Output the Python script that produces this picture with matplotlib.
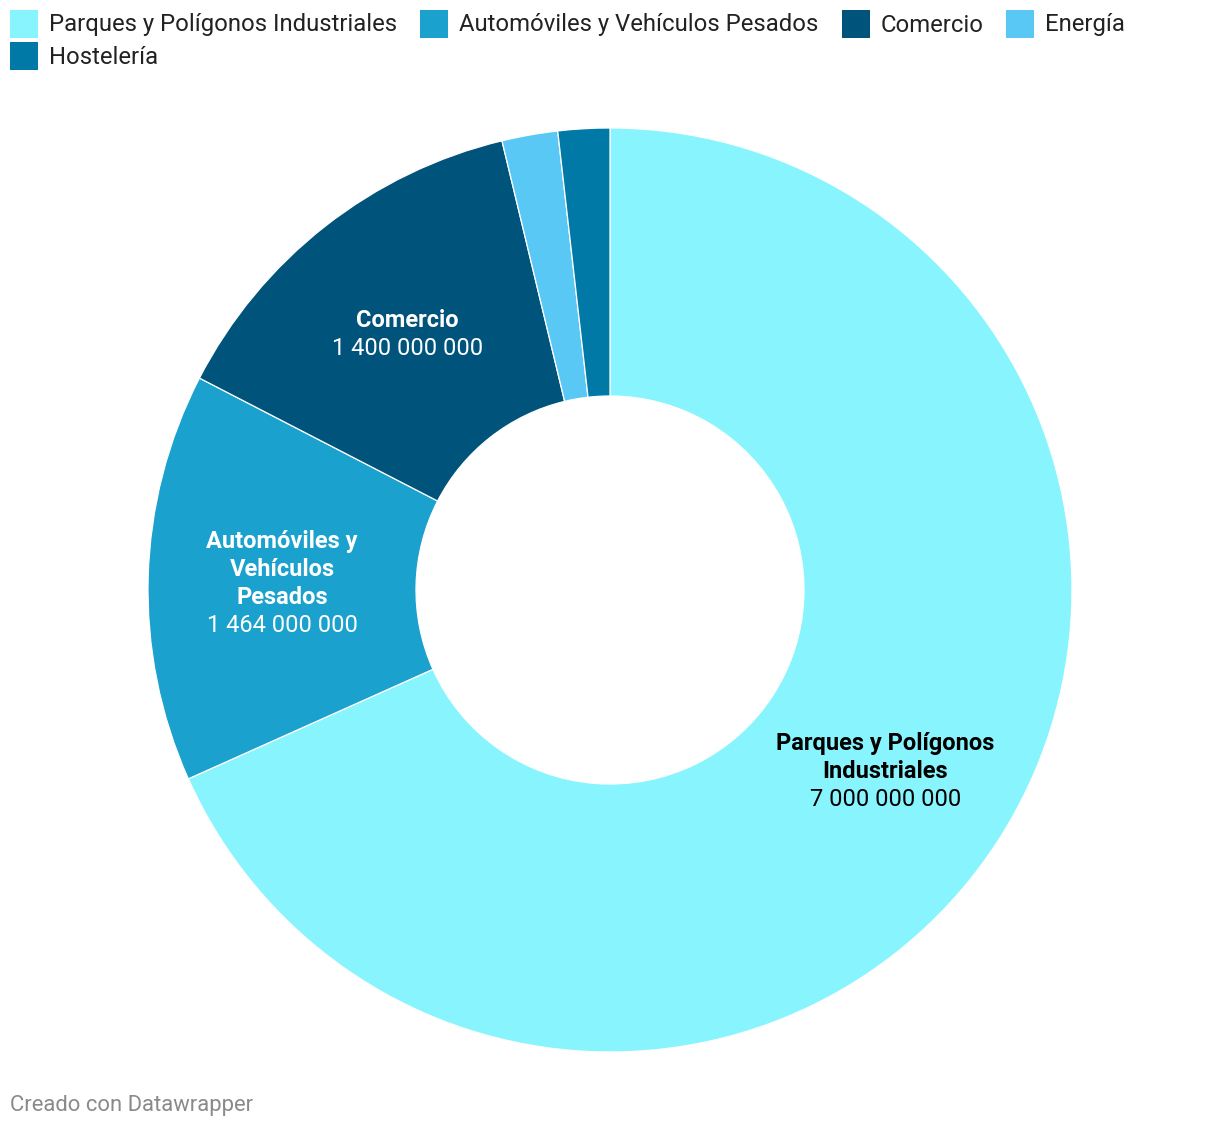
import numpy as np
import matplotlib
matplotlib.use("Agg")
import matplotlib.pyplot as plt
from matplotlib.patches import Rectangle

plt.rcParams['font.family'] = ['Roboto', 'DejaVu Sans']

categories = ["Parques y Polígonos Industriales", "Automóviles y Vehículos Pesados",
              "Comercio", "Energía", "Hostelería"]
values = [7000000000, 1464000000, 1400000000, 200000000, 185000000]
colors = ["#88F4FD", "#1AA1CD", "#00537A", "#5AC8F5", "#0079A6"]
# label lines inside slices (only the three big ones get labels)
label_lines = {
    "Parques y Polígonos Industriales": ["Parques y Polígonos", "Industriales"],
    "Automóviles y Vehículos Pesados": ["Automóviles y", "Vehículos", "Pesados"],
    "Comercio": ["Comercio"],
}
label_colors = {"Parques y Polígonos Industriales": "#000000"}

W, H = 1220, 1130
fig = plt.figure(figsize=(W / 100, H / 100), dpi=100)

# donut geometry in pixels
cx, cy, R, r_in = 610, 590, 462, 194
ax = fig.add_axes([(cx - R) / W, (H - cy - R) / H, 2 * R / W, 2 * R / H])

wedges, _ = ax.pie(values, colors=colors, startangle=90, counterclock=False,
                   radius=1, wedgeprops=dict(width=1 - r_in / R, edgecolor="white", linewidth=0.9))
ax.set_xlim(-1, 1)
ax.set_ylim(-1, 1)
ax.set_aspect("equal")
ax.axis("off")

# slice labels at 0.71 R along mid angle
line_h = 28
for w, cat, val in zip(wedges, categories, values):
    if cat not in label_lines:
        continue
    mid = np.deg2rad((w.theta1 + w.theta2) / 2)
    x, y = 0.71 * np.cos(mid), 0.71 * np.sin(mid)
    lines = label_lines[cat] + [f"{val:,}".replace(",", " ")]
    n = len(lines)
    col = label_colors.get(cat, "white")
    for i, txt in enumerate(lines):
        off = ((n - 1) / 2 - i) * line_h - 3
        ax.annotate(txt, (x, y), xytext=(0, off), textcoords="offset pixels",
                    ha="center", va="center", fontsize=17, color=col,
                    fontweight="bold" if i < n - 1 else "normal")

# legend, drawn by hand to follow the wrapped datawrapper layout
legend_pos = [(10, 24), (420, 24), (842, 24), (1006, 24), (10, 56)]
for (lx, ly), cat, col in zip(legend_pos, categories, colors):
    fig.patches.append(Rectangle((lx / W, (H - ly - 14) / H), 28 / W, 28 / H,
                                 transform=fig.transFigure, facecolor=col, edgecolor="none"))
    fig.text((lx + 39) / W, (H - ly - 1) / H, cat, ha="left", va="center",
             fontsize=17.2, color="#222222")

fig.text(10 / W, (H - 1106) / H, "Creado con Datawrapper", ha="left", va="center",
         fontsize=15.8, color="#8a8a8a")

fig.savefig("out.png", dpi=100, facecolor="white")
